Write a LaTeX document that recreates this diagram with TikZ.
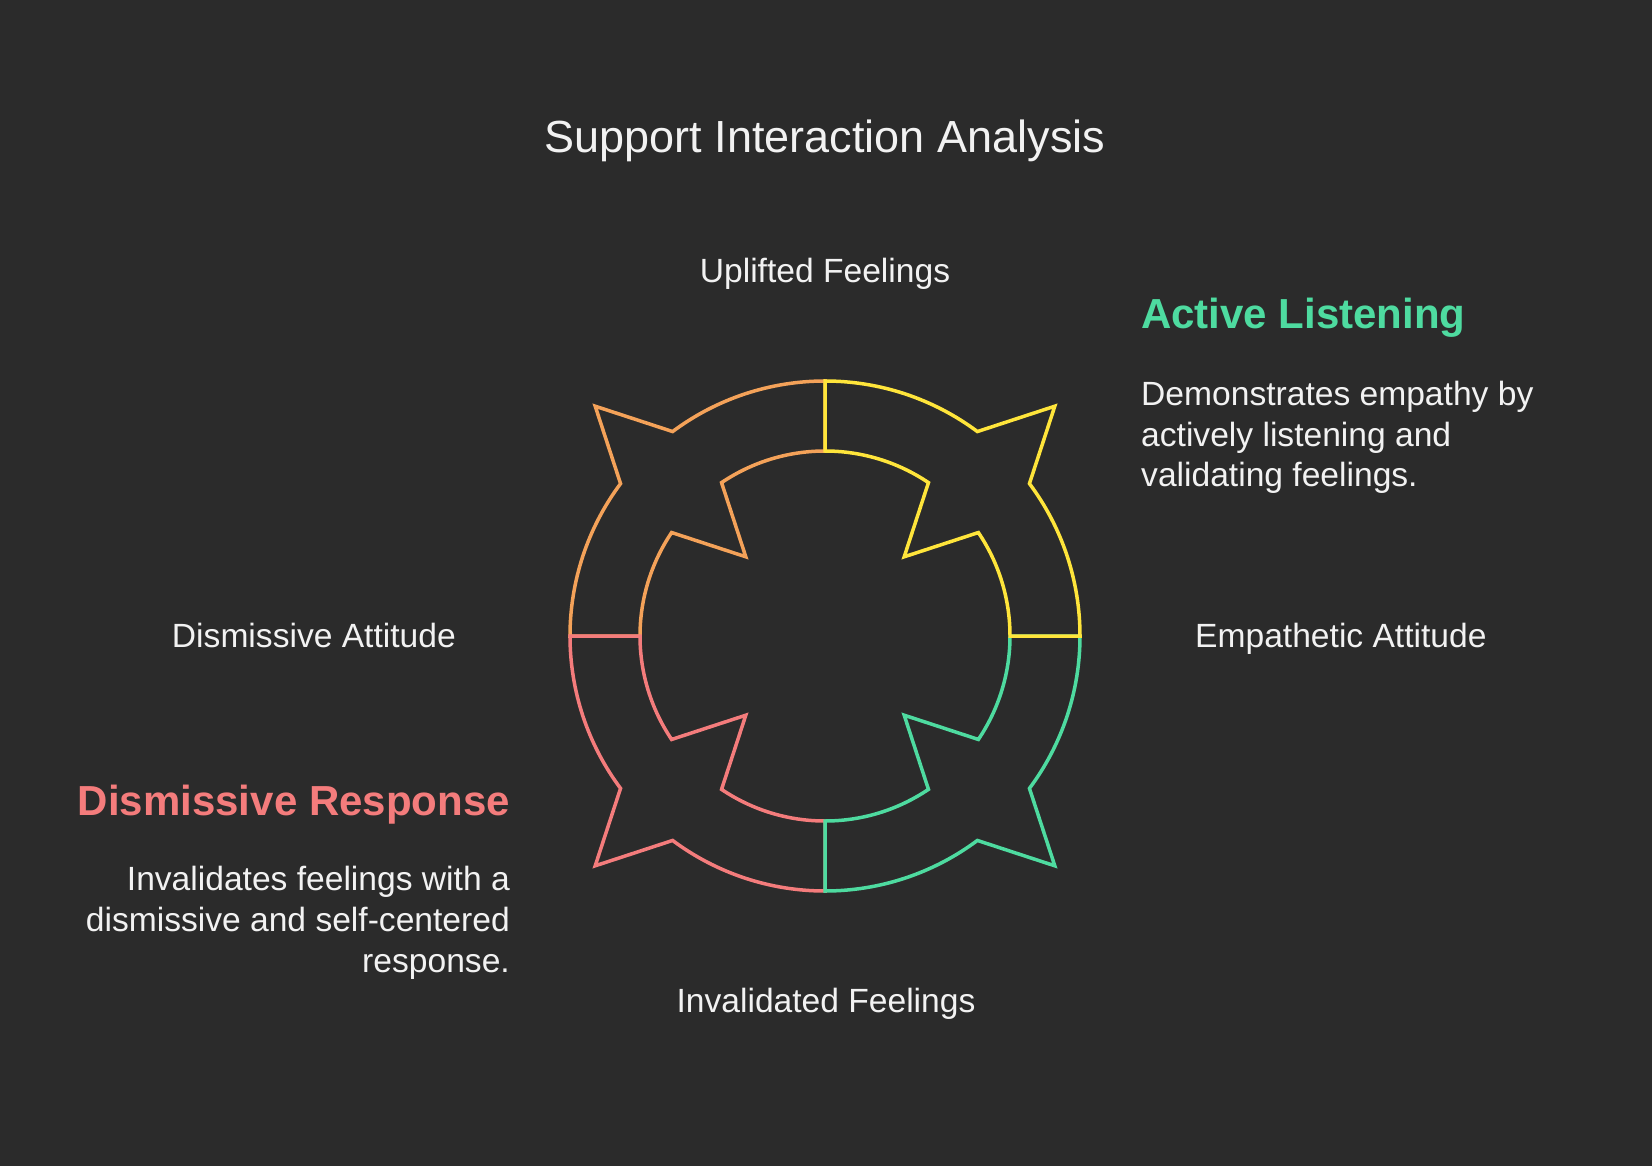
\documentclass[tikz,border=0pt]{standalone}
\usepackage{fontspec}
\setmainfont{Liberation Sans}
\definecolor{bg}{HTML}{2B2B2B}
\definecolor{cOrange}{HTML}{F4A259}
\definecolor{cYellow}{HTML}{FFE53B}
\definecolor{cGreen}{HTML}{4EDBA0}
\definecolor{cRed}{HTML}{F47C7C}
\definecolor{txt}{HTML}{F2F2F2}
\newcommand\ringseg[2]{%
  \draw[seg,#2] (#1:255)
    arc[start angle=#1, end angle=#1+36.7, radius=255]
    -- (#1+45:325) -- (#1+53.3:255)
    arc[start angle=#1+53.3, end angle=#1+90, radius=255]
    -- (#1+90:185)
    arc[start angle=#1+90, end angle=#1+56, radius=185]
    -- (#1+45:112) -- (#1+34:185)
    arc[start angle=#1+34, end angle=#1, radius=185]
    -- cycle;}
\begin{document}
\begin{tikzpicture}[x=1pt,y=1pt,
  seg/.style={line width=3.5pt, line join=miter},
  lbl/.style={inner sep=0pt, text=txt, font=\fontsize{33.6}{40}\selectfont},
  head/.style={inner sep=0pt, font=\fontsize{42}{50}\selectfont\bfseries},
  ttl/.style={inner sep=0pt, text=txt, font=\fontsize{45}{54}\selectfont}]
\useasboundingbox[fill=bg] (0,0) rectangle (1652,-1166);
\coordinate (C) at (825,-636);
\begin{scope}[shift={(C)}]
  \ringseg{90}{cOrange}
  \ringseg{180}{cRed}
  \ringseg{270}{cGreen}
  \ringseg{0}{cYellow}
\end{scope}
\node[ttl, anchor=base] (title) at (825,-153) {Support Interaction Analysis};
\node[lbl, anchor=base] (up) at (825,-283) {Uplifted Feelings};
\node[lbl, anchor=base] (inv) at (826,-1012) {Invalidated Feelings};
\node[lbl, anchor=base west] (emp) at (1195,-647) {Empathetic Attitude};
\node[lbl, anchor=base east] (dis) at (456,-647) {Dismissive Attitude};
\node[head, text=cGreen, anchor=base west] (al) at (1141,-329) {Active Listening};
\node[lbl, anchor=base west] (al1) at (1141,-405) {Demonstrates empathy by};
\node[lbl, anchor=base west] (al2) at (1141,-446) {actively listening and};
\node[lbl, anchor=base west] (al3) at (1141,-486) {validating feelings.};
\node[head, text=cRed, anchor=base east] (dr) at (510,-815) {Dismissive Response};
\node[lbl, anchor=base east] (dr1) at (510,-890) {Invalidates feelings with a};
\node[lbl, anchor=base east] (dr2) at (510,-931) {dismissive and self-centered};
\node[lbl, anchor=base east] (dr3) at (510,-972) {response.};
\end{tikzpicture}
\end{document}
